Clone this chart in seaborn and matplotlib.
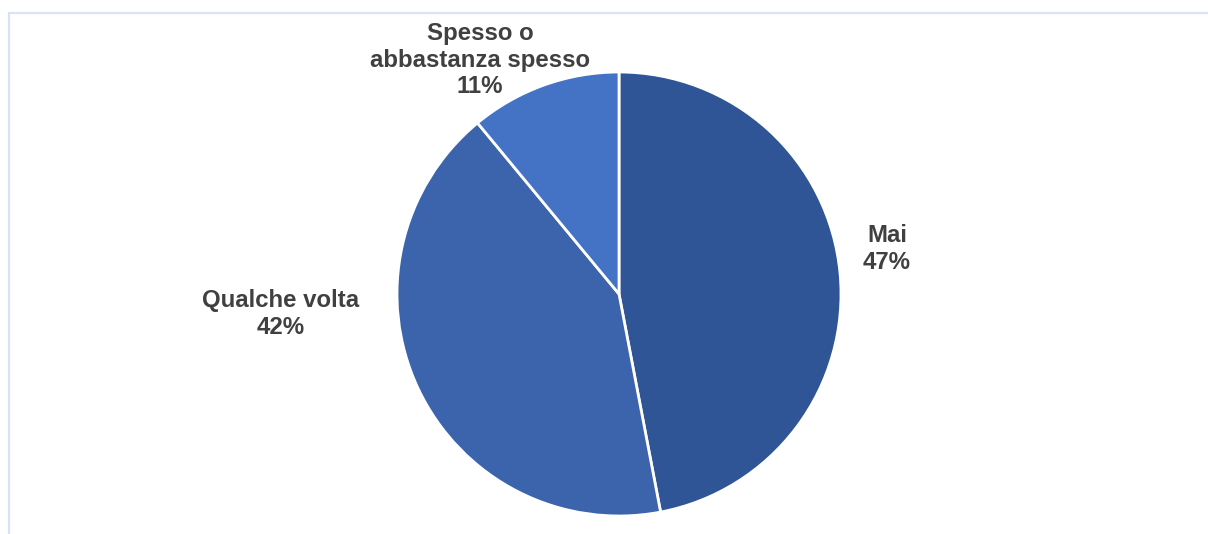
import matplotlib
matplotlib.use("Agg")
import matplotlib.pyplot as plt
from matplotlib.patches import Rectangle
import seaborn as sns

# Survey answers and their shares (%)
categories = ["Mai", "Qualche volta", "Spesso o\nabbastanza spesso"]
shares = [47, 42, 11]
colors = ["#2f5597", "#3b64ad", "#4472c4"]

sns.set_theme(style="white")
plt.rcParams["font.family"] = ["Liberation Sans", "DejaVu Sans"]

W, H = 1208, 534
fig = plt.figure(figsize=(W / 100, H / 100), dpi=100)
ax = fig.add_axes([0, 0, 1, 1])
ax.set_xlim(0, W)
ax.set_ylim(0, H)
ax.set_aspect("equal")
ax.axis("off")

# Chart frame
ax.add_patch(Rectangle((8.5, -20), W + 40, H - 12.5 + 20, fill=False,
                       edgecolor="#dae3f3", linewidth=1.6, zorder=0))

cx, cy, r = 619, H - 294, 222
ax.pie(shares, colors=colors, startangle=90, counterclock=False,
       center=(cx, cy), radius=r, frame=True,
       wedgeprops=dict(edgecolor="white", linewidth=2))
ax.set_xlim(0, W)
ax.set_ylim(0, H)
ax.axis("off")

# Data labels placed outside the pie
label_pos = [(887, H - 249), (281, H - 314), (480, H - 60)]
for name, val, (x, y) in zip(categories, shares, label_pos):
    ax.text(x, y, f"{name}\n{val}%", ha="center", va="center",
            fontsize=17.3, fontweight="bold", color="#404040",
            linespacing=1.2)

fig.savefig("out.png", dpi=100)
